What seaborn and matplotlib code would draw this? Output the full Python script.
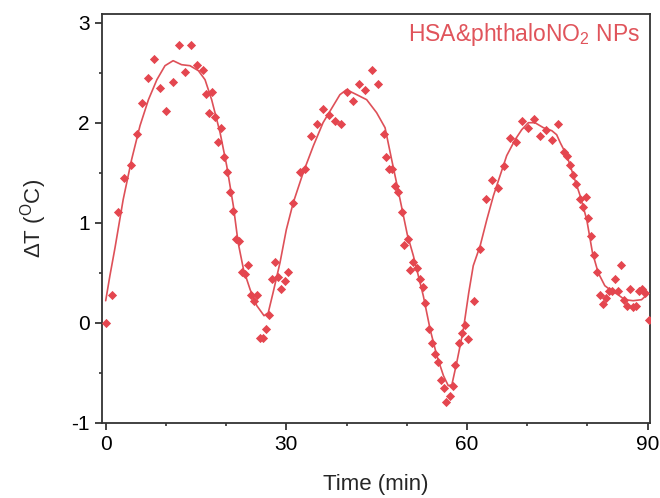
import matplotlib
matplotlib.use("Agg")
import matplotlib.pyplot as plt
from matplotlib.ticker import MultipleLocator
import seaborn as sns
import pandas as pd

# measured points
time_pts = [0, 1.1, 2.1, 3.1, 4.15, 5.15, 6.1, 7.1, 8.1, 9.1,
            10.1, 11.1, 12.1, 13.1, 14.1, 15.1, 16.2, 16.7, 17.2, 17.7,
            18.2, 18.6, 19.1, 19.65, 20.1, 20.65, 21.15, 21.65, 22.15, 22.7,
            23.2, 23.7, 24.2, 24.7, 25.2, 25.7, 26.2, 26.6, 27.2, 27.7,
            28.2, 28.7, 29.1, 29.7, 30.2, 31.1, 32.2, 33.15, 34.15, 35.15,
            36.15, 37.15, 38.15, 39.1, 40.1, 41.1, 42.1, 43.1, 44.2, 45.2,
            46.2, 46.6, 47.1, 47.6, 48.1, 48.6, 49.2, 49.6, 50.2, 50.55,
            51.1, 51.65, 52.2, 52.65, 53.1, 53.65, 54.15, 54.65, 55.15, 55.65,
            56.15, 56.6, 57.2, 57.65, 58.1, 58.65, 59.1, 59.7, 60.1, 61.1,
            62.1, 63.1, 64.1, 65.1, 66.15, 67.15, 68.15, 69.15, 70.15, 71.15,
            72.1, 73.1, 74.1, 75.1, 76.1, 76.6, 77.1, 77.6, 78.1, 78.7,
            79.2, 79.7, 80.1, 80.55, 81.1, 81.6, 82.15, 82.6, 83.15, 83.65,
            84.1, 84.6, 85.15, 85.65, 86.1, 86.6, 87.15, 87.65, 88.15, 88.6,
            89.1, 89.6, 90.2]
dT_pts = [0, 0.28, 1.11, 1.45, 1.58, 1.89, 2.20, 2.45, 2.64, 2.35,
          2.12, 2.41, 2.78, 2.51, 2.78, 2.58, 2.53, 2.29, 2.10, 2.31,
          2.06, 1.81, 1.95, 1.66, 1.51, 1.31, 1.12, 0.84, 0.82, 0.51,
          0.49, 0.58, 0.28, 0.22, 0.28, -0.15, -0.15, -0.06, 0.08, 0.44,
          0.61, 0.46, 0.34, 0.42, 0.51, 1.20, 1.51, 1.54, 1.87, 1.99,
          2.14, 2.08, 2.02, 1.99, 2.31, 2.22, 2.39, 2.33, 2.53, 2.39,
          1.89, 1.66, 1.54, 1.54, 1.37, 1.31, 1.11, 0.78, 0.84, 0.53,
          0.61, 0.55, 0.44, 0.36, 0.20, -0.06, -0.20, -0.31, -0.39, -0.57,
          -0.65, -0.79, -0.73, -0.63, -0.42, -0.20, -0.10, -0.02, -0.16, 0.22,
          0.74, 1.24, 1.43, 1.35, 1.57, 1.85, 1.81, 2.02, 1.95, 2.04,
          1.87, 1.93, 1.83, 1.99, 1.71, 1.67, 1.58, 1.48, 1.39, 1.24,
          1.16, 1.26, 1.05, 0.87, 0.68, 0.51, 0.28, 0.19, 0.25, 0.32,
          0.32, 0.44, 0.32, 0.58, 0.23, 0.17, 0.34, 0.16, 0.17, 0.32,
          0.34, 0.30, 0.03]

# smoothed curve
fit_t = [0, 0.7, 1.55, 2.9, 4.3, 5.7, 7.1, 8.5, 9.85, 11.2,
         12.6, 14.0, 15.4, 16.5, 17.6, 19.0, 20.1, 21.2, 22.0, 22.9,
         24.0, 25.1, 26.3, 27.0, 27.8, 28.95, 30.0, 31.15, 32.8, 34.5,
         36.1, 37.8, 38.9, 40.0, 41.7, 43.35, 45.0, 46.4, 47.5, 48.9,
         50.1, 51.1, 52.75, 53.9, 55.0, 56.1, 56.9, 57.5, 58.3, 59.4,
         60.3, 61.05, 62.2, 63.3, 64.4, 65.5, 66.6, 68.0, 69.1, 70.2,
         71.3, 72.7, 74.1, 74.9, 75.5, 76.6, 77.7, 78.8, 79.9, 80.85,
         81.8, 82.9, 84.0, 85.1, 86.2, 87.6, 89.0, 89.9]
fit_y = [0.22, 0.47, 0.75, 1.23, 1.63, 1.97, 2.23, 2.43, 2.57, 2.62,
         2.58, 2.57, 2.52, 2.43, 2.23, 1.90, 1.57, 1.17, 0.80, 0.53,
         0.33, 0.17, 0.07, 0.10, 0.30, 0.60, 0.93, 1.20, 1.50, 1.77,
         2.00, 2.17, 2.28, 2.33, 2.28, 2.23, 2.10, 1.95, 1.63, 1.23,
         0.88, 0.67, 0.27, -0.07, -0.33, -0.53, -0.63, -0.62, -0.40, -0.07,
         0.30, 0.57, 0.77, 1.03, 1.27, 1.47, 1.67, 1.83, 1.93, 2.00,
         2.00, 1.95, 1.92, 1.88, 1.80, 1.67, 1.47, 1.27, 1.03, 0.70,
         0.50, 0.37, 0.32, 0.28, 0.23, 0.22, 0.23, 0.28]

series_label = "HSA&phthaloNO$_2$ NPs"

sns.set_style("ticks")
plt.rcParams['font.family'] = ['Liberation Sans', 'DejaVu Sans']
plt.rcParams['mathtext.fontset'] = 'custom'
plt.rcParams['mathtext.rm'] = 'Liberation Sans'
plt.rcParams['mathtext.it'] = 'Liberation Sans:italic'
plt.rcParams['mathtext.default'] = 'regular'
plt.rcParams['axes.unicode_minus'] = False

red = '#E4464F'

fig = plt.figure(figsize=(6.6, 4.98), dpi=100)
ax = fig.add_axes([0.1553, 0.1512, 0.8295, 0.8207])

pts = pd.DataFrame({"t": time_pts, "dT": dT_pts})
fit = pd.DataFrame({"t": fit_t, "y": fit_y})

sns.lineplot(data=fit, x="t", y="y", ax=ax, color='#DE5058', lw=1.2,
             sort=False, estimator=None)
sns.scatterplot(data=pts, x="t", y="dT", ax=ax, color=red, marker='D',
                s=22, linewidth=0, zorder=3)

ax.set_xlim(-0.53, 90.4)
ax.set_ylim(-1, 3.087)
ax.xaxis.set_major_locator(MultipleLocator(30))
ax.xaxis.set_minor_locator(MultipleLocator(10))
ax.yaxis.set_major_locator(MultipleLocator(1))
ax.yaxis.set_minor_locator(MultipleLocator(0.5))

ax.tick_params(which='major', direction='out', length=5, width=1.2,
               color='#222222', labelsize=15, pad=4, labelcolor='black')
ax.tick_params(which='minor', direction='out', length=2.5, width=1.1,
               color='#222222')
for sp in ax.spines.values():
    sp.set_visible(True)
    sp.set_linewidth(1.3)
    sp.set_color('#333333')

ax.set_xlabel("Time (min)", fontsize=16, labelpad=14)
ax.set_ylabel(r"$\Delta$T ($^{O}$C)", fontsize=16, labelpad=16)

ax.text(0.982, 0.934, series_label, transform=ax.transAxes, ha='right',
        va='baseline', color='#E0545B', fontsize=16.5)

fig.savefig("out.png", dpi=100)
